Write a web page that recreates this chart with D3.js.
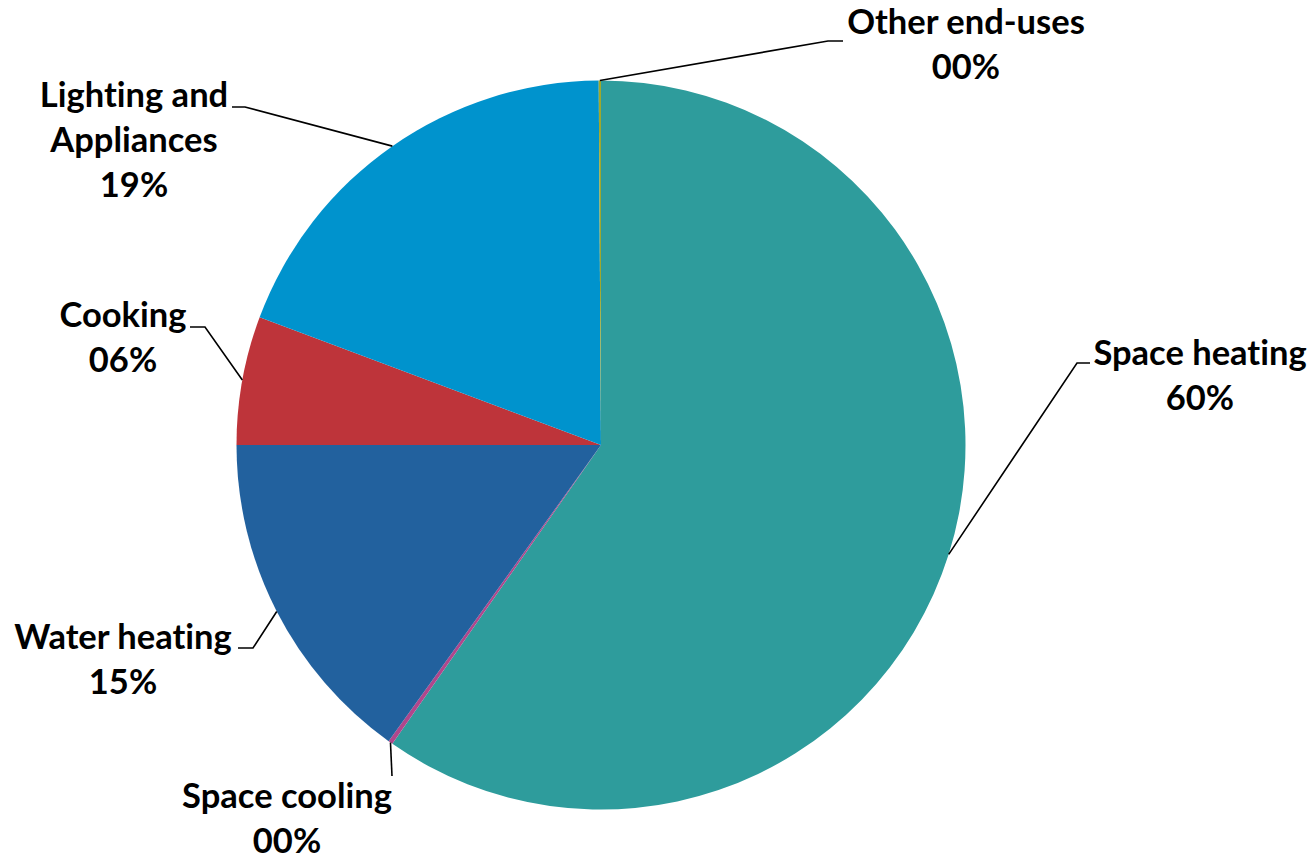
<!DOCTYPE html>
<html>
<head>
<meta charset="utf-8">
<script src="https://cdn.jsdelivr.net/npm/d3@7"></script>
<style>
  body { margin: 0; background: #fff; }
  svg { display: block; }
  .lbl { font-family: Lato, "Open Sans", sans-serif; font-weight: bold; font-size: 34.5px; fill: #000;
         font-variant-ligatures: none; font-feature-settings: "liga" 0; }
</style>
</head>
<body>
<div id="pie"></div>
<script>
// data (share of final energy, %)
const categories = ["Space heating", "Space cooling", "Water heating", "Cooking", "Lighting and Appliances", "Other end-uses"];
const values = [59.7, 0.2, 15.1, 5.7, 19.2, 0.1];
const colors = ["#2e9c9c", "#b0468c", "#22619e", "#be343a", "#0093cd", "#a0a82c"];

const width = 1316, height = 861;
const cx = 601, cy = 445, radius = 364.5;

// where each label sits (relative to pie centre) and where its leader bends
const labelLayout = {
  "Space heating":           { lines: ["Space heating"], x: 599, y: -80, bend: [476, -82], end: [489, -82] },
  "Space cooling":           { lines: ["Space cooling"], x: -314, y: 363, bend: null, end: [-209, 331] },
  "Water heating":           { lines: ["Water heating"], x: -478, y: 204, bend: [-348, 203], end: [-363, 203] },
  "Cooking":                 { lines: ["Cooking"], x: -478, y: -118, bend: [-396, -118], end: [-411, -118] },
  "Lighting and Appliances": { lines: ["Lighting and", "Appliances"], x: -467, y: -338, bend: [-356, -338], end: [-369, -338] },
  "Other end-uses":          { lines: ["Other end-uses"], x: 365, y: -411, bend: [227, -404], end: [242, -404] }
};
const lineGap = 45;

const total = d3.sum(values);
const data = categories.map((c, i) => ({ name: c, value: values[i], color: colors[i] }));
const pct = v => String(Math.round(v / total * 100)).padStart(2, "0") + "%";

const svg = d3.select("#pie")
  .append("svg")
    .attr("width", width)
    .attr("height", height);

const g = svg.append("g")
    .attr("transform", `translate(${cx},${cy})`);

const pie = d3.pie().value(d => d.value).sort(null);
const arc = d3.arc().innerRadius(0).outerRadius(radius);
const arcs = pie(data);

g.selectAll("path.slice")
  .data(arcs)
  .join("path")
    .attr("class", "slice")
    .attr("d", arc)
    .attr("fill", d => d.data.color);

// leader lines start at the middle of each slice's rim
const rimPoint = d => {
  const a = (d.startAngle + d.endAngle) / 2;
  return [radius * Math.sin(a), -radius * Math.cos(a)];
};

g.selectAll("polyline.leader")
  .data(arcs)
  .join("polyline")
    .attr("class", "leader")
    .attr("fill", "none")
    .attr("stroke", "#000")
    .attr("stroke-width", 1.6)
    .attr("points", d => {
      const L = labelLayout[d.data.name];
      const pts = [rimPoint(d)];
      if (L.bend) pts.push(L.bend);
      pts.push(L.end);
      return pts.map(p => p.join(",")).join(" ");
    });

const labels = g.selectAll("text.lbl")
  .data(arcs)
  .join("text")
    .attr("class", "lbl")
    .attr("text-anchor", "middle");

labels.each(function(d) {
  const L = labelLayout[d.data.name];
  const t = d3.select(this);
  const lines = L.lines.concat([pct(d.data.value)]);
  lines.forEach((s, i) => {
    t.append("tspan")
      .attr("x", L.x)
      .attr("y", L.y + i * lineGap)
      .text(s);
  });
});
</script>
</body>
</html>
